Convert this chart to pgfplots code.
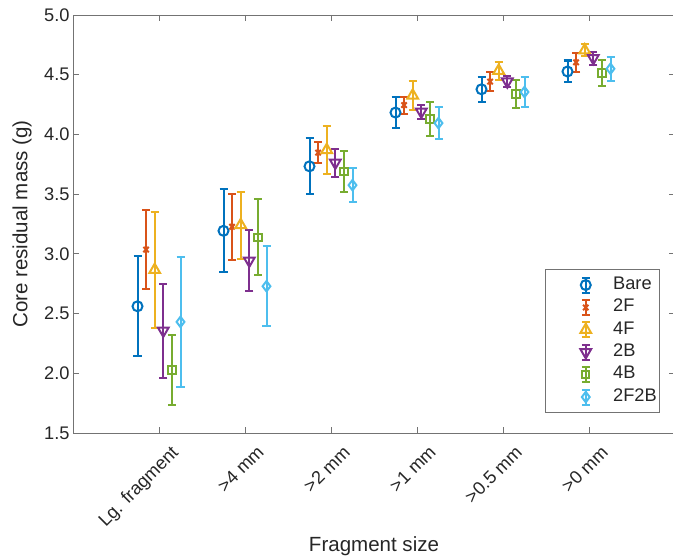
\documentclass[border=0pt]{standalone}
\usepackage{fontspec}
\setmainfont{Liberation Sans}
\usepackage{pgfplots}
\usepackage{pgfplotstable}
\pgfplotsset{compat=1.18}

\definecolor{cBare}{rgb}{0,0.447,0.741}
\definecolor{cTwoF}{rgb}{0.850,0.325,0.098}
\definecolor{cFourF}{rgb}{0.929,0.694,0.125}
\definecolor{cTwoB}{rgb}{0.494,0.184,0.556}
\definecolor{cFourB}{rgb}{0.466,0.674,0.188}
\definecolor{cTwoFTwoB}{rgb}{0.301,0.745,0.933}

\newcommand{\ticksize}{\fontsize{18.3}{21}\selectfont}
\newcommand{\labsize}{\fontsize{20.6}{24}\selectfont}

\pgfplotstableread{
x y e
0 2.561 0.419
1 3.193 0.348
2 3.733 0.233
3 4.183 0.128
4 4.378 0.106
5 4.527 0.092
}\tBare
\pgfplotstableread{
x y e
0 3.036 0.334
1 3.227 0.278
2 3.848 0.091
3 4.246 0.071
4 4.442 0.078
5 4.604 0.080
}\tTwoF
\pgfplotstableread{
x y e
0 2.866 0.483
1 3.241 0.280
2 3.870 0.200
3 4.326 0.123
4 4.534 0.076
5 4.705 0.050
}\tFourF
\pgfplotstableread{
x y e
0 2.357 0.393
1 2.943 0.258
2 3.763 0.118
3 4.190 0.057
4 4.443 0.048
5 4.639 0.054
}\tTwoB
\pgfplotstableread{
x y e
0 2.028 0.295
1 3.140 0.320
2 3.692 0.172
3 4.130 0.144
4 4.338 0.120
5 4.514 0.107
}\tFourB
\pgfplotstableread{
x y e
0 2.430 0.547
1 2.729 0.337
2 3.575 0.140
3 4.095 0.137
4 4.355 0.123
5 4.550 0.100
}\tTwoFTwoB

\pgfplotsset{
  ser/.style 2 args={only marks, color=#1, mark options={solid, line width=2bp, #2},
    error bars/y dir=both, error bars/y explicit,
    error bars/error bar style={line width=2bp, color=#1},
    error bars/error mark options={rotate=90, mark size=4bp, line width=2bp, color=#1}},
  ebleg/.style 2 args={legend image code/.code={%
    \path (-40bp,0bp) (24bp,0bp);
    \draw[color=#1, line width=2bp] (0bp,-7.5bp) -- (0bp,7.5bp)
       (-4bp,-7.5bp) -- (4bp,-7.5bp) (-4bp,7.5bp) -- (4bp,7.5bp);
    \draw[color=#1, line width=2bp, #2] plot coordinates {(0bp,0bp)};
  }},
}

\begin{document}
\begin{tikzpicture}
\begin{axis}[
  at={(0,0)}, anchor=south west,
  width=602bp, height=418bp, scale only axis,
  xmin=-1, xmax=6, ymin=1.5, ymax=5,
  xtick={0,1,2,3,4,5},
  xticklabels={Lg. fragment, >4 mm, >2 mm, >1 mm, >0.5 mm, >0 mm},
  ytick={1.5,2,2.5,3,3.5,4,4.5,5},
  yticklabel style={/pgf/number format/.cd, fixed, fixed zerofill, precision=1},
  /pgf/number format/assume math mode=true,
  xtick pos=both, ytick pos=both,
  xticklabel pos=lower, yticklabel pos=left,
  tick align=inside,
  tick label style={font=\ticksize, color=black!85},
  x tick label style={xshift=11bp, yshift=-7bp, rotate=45, anchor=north east, inner sep=3pt},
  axis line style={black!55, line width=0.8bp},
  major tick style={black!55, line width=0.8bp},
  major tick length=6bp,
  xlabel={Fragment size}, ylabel={Core residual mass (g)},
  label style={font=\labsize, color=black!85},
  xlabel style={at={([yshift=-118bp]axis description cs:0.5,0)}, anchor=base},
  ylabel style={at={([xshift=-51bp]axis description cs:0,0.5)}, anchor=center},
  legend style={at={(0.784,0.392)}, anchor=north west, draw=black!55, line width=0.8bp,
    fill=white, inner xsep=0bp, inner ysep=4.3bp, row sep=0bp, font=\ticksize,
    text=black!85,
    nodes={text height=12.5bp, text depth=4bp, inner xsep=3bp, inner ysep=2.95bp, anchor=west}},
  legend cell align=left,
  clip=false,
]
\addplot[mark=o, mark size=5bp, ebleg={cBare}{mark=o, mark size=5bp}, ser={cBare}{}]
  table[x expr=\thisrow{x}-0.25, y=y, y error=e]{\tBare};
\addlegendentry{Bare}
\addplot[mark=x, mark size=3.8bp, ebleg={cTwoF}{mark=x, mark size=3.8bp}, ser={cTwoF}{}]
  table[x expr=\thisrow{x}-0.15, y=y, y error=e]{\tTwoF};
\addlegendentry{2F}
\addplot[mark=triangle, mark size=6.2bp, ebleg={cFourF}{mark=triangle, mark size=6.2bp}, ser={cFourF}{}]
  table[x expr=\thisrow{x}-0.05, y=y, y error=e]{\tFourF};
\addlegendentry{4F}
\addplot[mark=triangle, mark size=6.2bp,
  ebleg={cTwoB}{mark=triangle, mark size=6.2bp, mark options={rotate=180}}, ser={cTwoB}{rotate=180}]
  table[x expr=\thisrow{x}+0.05, y=y, y error=e]{\tTwoB};
\addlegendentry{2B}
\addplot[mark=square, mark size=3.6bp, ebleg={cFourB}{mark=square, mark size=3.6bp}, ser={cFourB}{}]
  table[x expr=\thisrow{x}+0.15, y=y, y error=e]{\tFourB};
\addlegendentry{4B}
\addplot[mark=diamond, mark size=5.2bp, ebleg={cTwoFTwoB}{mark=diamond, mark size=5.2bp}, ser={cTwoFTwoB}{}]
  table[x expr=\thisrow{x}+0.25, y=y, y error=e]{\tTwoFTwoB};
\addlegendentry{2F2B}
\end{axis}
\pgfresetboundingbox
\path[use as bounding box] (-73bp,-125bp) rectangle (600bp,433bp);
\end{tikzpicture}
\end{document}
